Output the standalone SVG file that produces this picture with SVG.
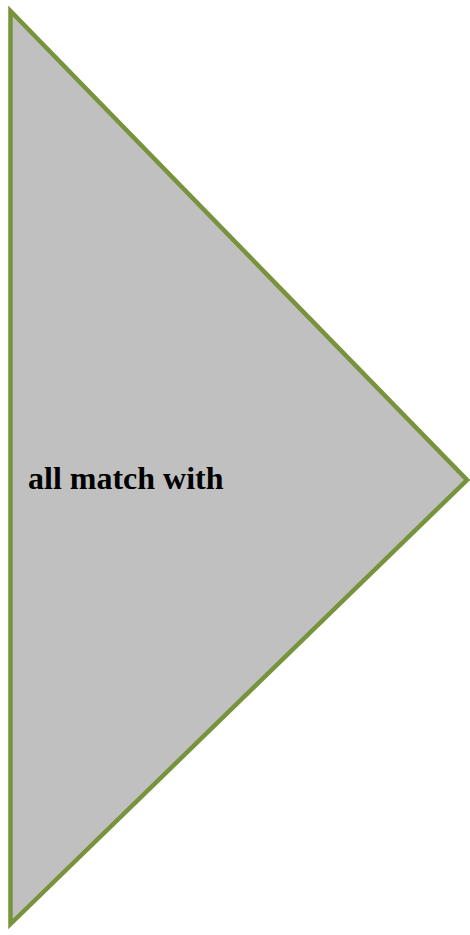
<svg xmlns="http://www.w3.org/2000/svg" width="470" height="935" viewBox="0 0 470 935">
<style>
.shape{fill:#C0C0C0;stroke:#77933C;stroke-width:4.5;stroke-linejoin:miter;stroke-miterlimit:10}
.label{font-family:"Liberation Serif","Times New Roman",serif;font-weight:bold;font-size:32px;fill:#000}
</style>
<g id="triangle">
<polygon class="shape" points="10.5,11 10.5,924 467,480"/>
<text class="label" x="28" y="489">all match with</text>
</g>
</svg>
